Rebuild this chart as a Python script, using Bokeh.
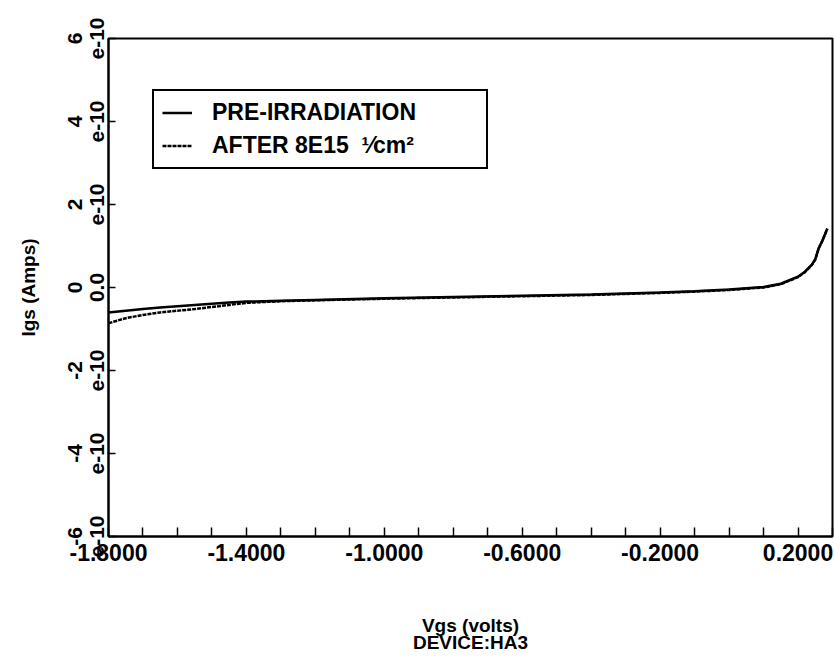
from bokeh.plotting import figure
from bokeh.models import FixedTicker, Legend, LegendItem, Range1d
from bokeh.embed import file_html
from bokeh.resources import INLINE

# Gate voltage (volts)
vgs = [-1.8, -1.75, -1.7, -1.65, -1.6, -1.55, -1.5, -1.45, -1.4, -1.3, -1.2,
       -1.0, -0.8, -0.6, -0.4, -0.2, -0.1, 0.0, 0.1, 0.15, 0.2, 0.22, 0.24, 0.25,
       0.26, 0.27, 0.285]
# Gate current (Amps)
igs_pre = [-0.60e-10, -0.56e-10, -0.52e-10, -0.48e-10, -0.45e-10, -0.42e-10, -0.39e-10,
           -0.36e-10, -0.34e-10, -0.32e-10, -0.30e-10, -0.26e-10, -0.23e-10, -0.20e-10,
           -0.17e-10, -0.12e-10, -0.09e-10, -0.05e-10, 0.01e-10, 0.09e-10, 0.26e-10,
           0.38e-10, 0.55e-10, 0.68e-10, 0.95e-10, 1.12e-10, 1.42e-10]
igs_after = [-0.86e-10, -0.74e-10, -0.66e-10, -0.60e-10, -0.56e-10, -0.52e-10, -0.47e-10,
             -0.42e-10, -0.37e-10, -0.33e-10, -0.31e-10, -0.27e-10, -0.24e-10, -0.21e-10,
             -0.18e-10, -0.13e-10, -0.10e-10, -0.06e-10, 0.0, 0.08e-10, 0.25e-10,
             0.37e-10, 0.54e-10, 0.67e-10, 0.94e-10, 1.11e-10, 1.41e-10]

x_major = [-1.8, -1.4, -1.0, -0.6, -0.2, 0.2]
x_labels = ["-1.8000", "-1.4000", "-1.0000", "-0.6000", "-0.2000", "0.2000"]
x_minor = [-1.7, -1.6, -1.5, -1.3, -1.2, -1.1, -0.9, -0.8, -0.7, -0.5, -0.4, -0.3,
           -0.1, 0.0, 0.1, 0.3]
y_ticks = [-6e-10, -4e-10, -2e-10, 0.0, 2e-10, 4e-10, 6e-10]
y_labels = ["-6\ne-10", "-4\ne-10", "-2\ne-10", "0\n0.0", "2\ne-10", "4\ne-10", "6\ne-10"]

FONT = "Liberation Sans"

p = figure(width=834, height=669, output_backend="svg", toolbar_location=None,
           x_range=Range1d(-1.8, 0.3), y_range=Range1d(-6e-10, 6e-10),
           min_border_left=108, min_border_right=2, min_border_top=38, min_border_bottom=133)
p.xgrid.visible = False
p.ygrid.visible = False
p.outline_line_color = "black"
p.outline_line_width = 2
p.outline_line_alpha = 1
p.background_fill_color = "white"
p.border_fill_color = "white"

r1 = p.line(vgs, igs_pre, line_color="black", line_width=2.5)
r2 = p.line(vgs, igs_after, line_color="black", line_width=2.5, line_dash="4 1")

xa = p.xaxis[0]
xa.ticker = FixedTicker(ticks=x_major, minor_ticks=x_minor)
xa.major_label_overrides = {t: l for t, l in zip(x_major, x_labels)}
xa.axis_line_width = 2
xa.axis_line_color = "black"
xa.major_tick_in = 9
xa.major_tick_out = 0
xa.minor_tick_in = 9
xa.minor_tick_out = 0
xa.major_tick_line_width = 1.5
xa.minor_tick_line_width = 1.5
xa.major_tick_line_color = "black"
xa.minor_tick_line_color = "black"
xa.major_label_standoff = 7
xa.major_label_text_font = FONT
xa.major_label_text_font_size = "23px"
xa.major_label_text_font_style = "bold"
xa.major_label_text_color = "black"
xa.axis_label = "Vgs (volts)\nDEVICE:HA3"
xa.axis_label_text_font = FONT
xa.axis_label_text_font_size = "19px"
xa.axis_label_text_font_style = "bold"
xa.axis_label_text_color = "black"
xa.axis_label_text_line_height = 0.85
xa.axis_label_standoff = 51

ya = p.yaxis[0]
ya.ticker = FixedTicker(ticks=y_ticks, minor_ticks=[])
ya.major_label_overrides = {t: l for t, l in zip(y_ticks, y_labels)}
ya.major_label_orientation = "vertical"
ya.axis_line_width = 2
ya.axis_line_color = "black"
ya.major_tick_in = 7
ya.major_tick_out = 0
ya.major_tick_line_width = 1.5
ya.major_tick_line_color = "black"
ya.major_label_standoff = 1
ya.major_label_text_font = FONT
ya.major_label_text_font_size = "21px"
ya.major_label_text_font_style = "bold"
ya.major_label_text_color = "black"
ya.major_label_text_line_height = 0.95
ya.axis_label = "Igs (Amps)"
ya.axis_label_text_font = FONT
ya.axis_label_text_font_size = "19px"
ya.axis_label_text_font_style = "bold"
ya.axis_label_text_color = "black"
ya.axis_label_standoff = 21

legend = Legend(items=[LegendItem(label="PRE-IRRADIATION", renderers=[r1]),
                       LegendItem(label="AFTER 8E15  \u00b9\u2044cm\u00b2", renderers=[r2])],
                location=(44, 367), orientation="vertical")
legend.border_line_color = "black"
legend.border_line_width = 2
legend.border_line_alpha = 1
legend.background_fill_color = "white"
legend.background_fill_alpha = 1
legend.padding = 8
legend.margin = 0
legend.spacing = 6
legend.glyph_width = 30
legend.glyph_height = 27
legend.label_height = 27
legend.label_width = 266
legend.label_standoff = 20
legend.label_text_font = FONT
legend.label_text_font_size = "23px"
legend.label_text_font_style = "bold"
legend.label_text_color = "black"
p.add_layout(legend)

open("out.html", "w").write(file_html(p, INLINE))
